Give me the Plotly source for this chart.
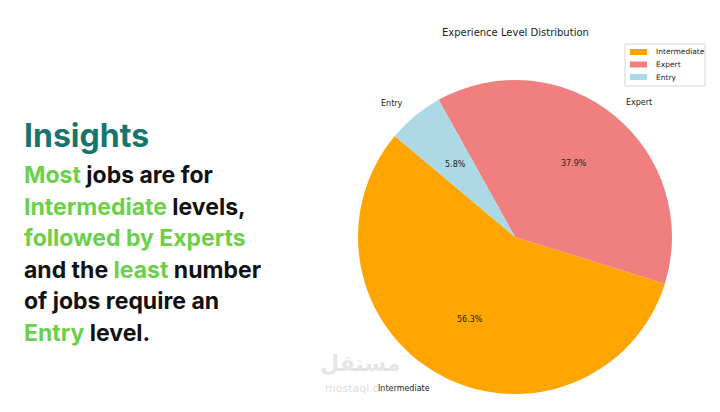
import math
import plotly.graph_objects as go

labels = ["Intermediate", "Expert", "Entry"]
values = [56.3, 37.9, 5.8]
colors = ["#FFA500", "#F08080", "#ADD8E6"]
start_angle = 140  # degrees, counterclockwise (matplotlib style)

W, H = 720, 412
cx, cy, R = 515, 237, 157
total = sum(values)

fig = go.Figure(go.Pie(
    labels=labels, values=values, sort=False, direction="counterclockwise",
    rotation=-(start_angle - 90) - 360 * values[0] / total,
    marker=dict(colors=colors, line=dict(width=0)),
    textinfo="none", hoverinfo="label+percent", showlegend=False,
    domain=dict(x=[(cx - R) / W, (cx + R) / W], y=[(H - cy - R) / H, (H - cy + R) / H]),
))

ann = []
shapes = []
a = start_angle
for lab, v in zip(labels, values):
    span = 360 * v / total
    mid = math.radians(a + span / 2)
    a += span
    c, s = math.cos(mid), math.sin(mid)
    ann.append(dict(x=(cx + 0.6 * R * c) / W, y=(H - cy + 0.6 * R * s) / H, xref="paper", yref="paper",
                    xanchor="center", yanchor="middle",
                    text=f"{v:.1f}%", showarrow=False, font=dict(size=8, color="#222")))
    ann.append(dict(x=(cx + 1.1 * R * c) / W, y=(H - cy + 1.1 * R * s) / H, xref="paper", yref="paper",
                    text=lab, showarrow=False, xanchor="left" if c > 0 else "right", yanchor="middle",
                    font=dict(size=8, color="#222")))

# legend (matplotlib style box)
lx0, ly0, lx1, ly1 = 625, 44, 705, 86
shapes.append(dict(type="rect", xref="paper", yref="paper", x0=lx0 / W, x1=lx1 / W, y0=1 - ly1 / H, y1=1 - ly0 / H,
                   line=dict(color="#d6d6d6", width=1), fillcolor="white"))
for i, (lab, col) in enumerate(zip(labels, colors)):
    yc = 52 + i * 12.5
    shapes.append(dict(type="rect", xref="paper", yref="paper", x0=630 / W, x1=647 / W,
                       y0=1 - (yc + 3) / H, y1=1 - (yc - 3) / H, line=dict(width=0), fillcolor=col))
    ann.append(dict(x=654 / W, y=1 - yc / H, xref="paper", yref="paper", text=lab, showarrow=False,
                    xanchor="left", yanchor="middle", font=dict(size=7.5, color="#222")))

ann.append(dict(x=515 / W, y=1 - 33 / H, xref="paper", yref="paper", text="Experience Level Distribution",
                showarrow=False, xanchor="center", yanchor="middle", font=dict(size=10, color="#222")))

G = "#6BD04A"
lines = [
    f"<span style='color:{G}'>Most</span> jobs are for",
    f"<span style='color:{G}'>Intermediate</span> levels,",
    f"<span style='color:{G}'>followed by Experts</span>",
    f"and the <span style='color:{G}'>least</span> number",
    "of jobs require an",
    f"<span style='color:{G}'>Entry</span> level.",
]
ann.append(dict(x=22 / W, y=1 - 135 / H, xref="paper", yref="paper", text="<b>Insights</b>", showarrow=False,
                xanchor="left", yanchor="middle", font=dict(size=32, color="#17756E", family="Inter")))
for i, t in enumerate(lines):
    ann.append(dict(x=22 / W, y=1 - (175 + i * 31.5) / H, xref="paper", yref="paper", text=f"<b>{t}</b>",
                    showarrow=False, xanchor="left", yanchor="middle",
                    font=dict(size=23, color="#111", family="Inter")))
ann.append(dict(x=360 / W, y=1 - 378 / H, xref="paper", yref="paper", text="<b>مستقل</b>", showarrow=False,
                xanchor="center", font=dict(size=22, color="rgba(180,180,180,0.35)")))
ann.append(dict(x=360 / W, y=1 - 397 / H, xref="paper", yref="paper", text="mostaql.com", showarrow=False,
                xanchor="center", font=dict(size=11, color="rgba(180,180,180,0.45)")))

fig.update_layout(
    width=W, height=H, margin=dict(l=0, r=0, t=0, b=0), paper_bgcolor="white",
    font=dict(family="DejaVu Sans"), annotations=ann, shapes=shapes,
)
fig.write_html("out.html", config={"displayModeBar": False},
               post_script="document.body.style.margin='0';")
